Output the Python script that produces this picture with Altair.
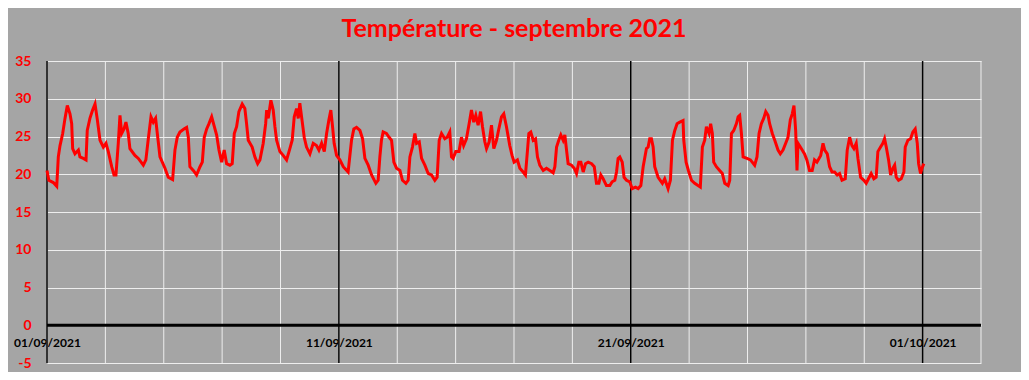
import altair as alt
import pandas as pd

title_text = "Température - septembre 2021"
x_tick_labels = ["01/09/2021", "11/09/2021", "21/09/2021", "01/10/2021"]
y_ticks = [-5, 0, 5, 10, 15, 20, 25, 30, 35]

# hours elapsed since 01/09/2021 00:00
hours = [
    0, 1.5, 5.2, 8, 9.3, 10.7, 12.9, 14.8, 16.7, 18.9, 20.3, 21.1, 23, 25.8, 27.1, 29.9, 32.1,
    33.1, 35.3, 37.5, 39.5, 41.4, 43.6, 46.3, 48.5, 50.4, 53.2, 55.1, 56.7, 58.6, 60, 61.4,
    63.3, 64.9, 66.8, 68.2, 72.3, 75.1, 79.2, 81.3, 83.3, 85.5, 87.4, 89.3, 90.7, 92.9, 97,
    99.7, 103.3, 105.2, 107.1, 109.3, 112.6, 114.8, 116.2, 117.5, 120.3,
    123, 125.8, 127.7, 129.3, 131.3, 133.2, 135.4, 137.6, 139.5, 141.4, 143.6, 145.7, 147.7,
    150.4, 152.3, 154, 155.9, 157.8, 160.5, 162.7, 164.1, 165.5, 168.7, 170.9, 173.2, 175.1,
    177.8, 179.8, 180.6, 181.9, 184.1, 186, 187.4, 188.8, 191.5, 194.2, 197, 199.7, 201.6,
    203.3, 205.2, 206.6, 207.9, 209.9, 211.5, 213.4, 216.2, 218.9, 221.6, 223.6, 225.8, 228,
    229.9, 231.8, 233.4, 234.8, 236.1, 238.1, 240.8, 243.6, 247.6,
    250.4, 252.3, 254.5, 257.3, 259.5, 261.4, 264.1, 266.9, 270.4, 272.3, 273.7, 275, 276.4,
    279.1, 281.3, 283.3, 285.2, 287.4, 290.2, 292.3, 295.1, 297, 298.4, 300.5, 302.5, 303.9,
    306.1, 308, 310.7, 313.4, 316.2, 318.9, 320.8, 322.5, 324.4, 327.1, 329.1, 331.2, 332.6,
    333.9, 336.1, 338.8, 340.8, 342.6, 344.9, 347.1, 349, 350.9, 352.6, 354.5, 356.5, 358.1,
    360, 361.4, 363.6, 365.5, 367.4, 369.6, 371.5, 373.7, 375.6, 377.8,
    380.5, 382.4, 384.1, 386.8, 388.8, 391.5, 393.4, 395.1, 396.2, 397.8, 399.8, 401.7, 403.3,
    405.2, 408, 410.7, 413.5, 416.2, 417.6, 419, 420.8, 422.5, 424.4, 425.8, 427.2, 428.5,
    431.3, 433.5, 435.4, 437.3, 439, 440.9, 442.8, 445, 447.8, 450, 451.8, 453.8, 455.4,
    457.3, 460, 462.8, 464.7, 466.9, 468.3, 469.6, 471, 473, 474.5, 476.5, 479.2, 481.1,
    483.9, 486.1, 488.3, 490.2, 492.9, 494.3, 495.6, 497, 498.4, 499.7, 502.5,
    506, 507.9, 510.7, 512.6, 514.3, 516.2, 518.1, 520.3, 523, 523.6, 525.5, 527.4, 529.9,
    532.6, 535.3, 537.2, 538.9, 540.8, 542.2, 544.4, 545.7, 547.1, 548.2, 550.4, 553.1, 555.3,
    557.3, 560.1, 561.4, 562.8, 564.7, 566.9, 568.3, 569.6, 571, 572.4, 575.6, 578.4, 581.9,
    583.8, 585.5, 587.4, 589.3, 591, 592.9, 594.2, 596.4, 598.4, 601.1, 603, 605.2, 607.4,
    609.3, 611.2, 612.8, 614.2, 615.6, 616.7, 617.5, 620.2, 622.9, 624.8, 627, 629.2, 631.1,
    633.1,
    636.2, 638.1, 639.5, 641.6, 643.5, 645.5, 647.6, 649.8, 651.7, 653.7, 656.4, 658, 660,
    661.9, 663.5, 665.4, 666.8, 669, 671.7, 673.6, 675.5, 677.7, 679.9, 681.8, 683.2, 685.4,
    687.3, 688.7, 690.1, 692, 693.7, 695.6, 697, 698.3, 700.2, 702.4, 704.6, 705.7, 707.9,
    710.1, 712, 713.9, 715.6, 716.7, 718.3, 719.5, 721,
]

temps = [
    20.5, 19.2, 18.9, 18.4, 22.3, 23.8, 25.4, 27.4, 29.1, 28.0, 26.7, 23.4, 22.7, 23.2, 22.3, 22.1, 21.9,
    25.8, 27.4, 28.5, 29.3, 27.2, 24.5, 23.6, 24.1, 23.0, 21.0, 19.9, 19.9, 24.1, 27.8, 25.4,
    26.0, 26.9, 25.4, 23.4, 22.5, 22.1, 21.2, 21.9, 24.7, 27.6, 26.9, 27.4, 25.4, 22.3, 20.8,
    19.6, 19.3, 23.2, 24.9, 25.6, 26.0, 26.2, 24.9, 21.0, 20.5,
    19.9, 21.0, 21.6, 24.9, 26.0, 26.7, 27.6, 26.3, 25.2, 23.2, 21.6, 23.2, 21.4,
    21.2, 21.4, 25.4, 26.3, 28.3, 29.3, 28.7, 26.7, 24.5, 23.6, 22.3, 21.4, 21.9,
    24.1, 26.7, 28.5, 27.4, 29.8, 28.5, 26.3, 24.5, 23.0, 22.5, 21.9, 23.4, 24.5,
    27.6, 28.7, 27.4, 29.4, 26.9, 24.9, 23.6, 22.7, 24.1, 23.8, 23.2, 24.1, 23.0,
    25.4, 27.2, 28.5, 26.3, 24.1, 22.5, 21.9, 21.0, 20.3,
    24.5, 26.0, 26.2, 25.8, 24.7, 22.1, 21.2, 19.9, 18.8, 19.2, 22.3, 24.5, 25.6,
    25.4, 24.9, 24.5, 21.6, 20.8, 20.5, 19.2, 18.8, 19.2, 22.3, 23.6, 25.4, 24.1,
    24.3, 22.1, 21.2, 20.1, 19.9, 19.2, 19.6, 24.5, 25.4, 24.7, 24.9, 25.6, 22.3,
    22.1, 23.0, 23.0, 24.9, 23.8, 24.7, 26.7, 28.5, 26.9, 27.8, 26.5, 28.3, 26.3,
    24.3, 23.4, 24.3, 26.5, 23.4, 24.5, 26.0, 27.6, 28.0, 26.3,
    23.8, 22.5, 21.6, 21.9, 20.8, 20.3, 19.9, 23.2, 25.4, 25.6, 24.5, 24.7, 22.3,
    21.2, 20.5, 20.8, 20.5, 20.2, 21.0, 23.6, 24.5, 25.2, 24.5, 25.2, 23.2, 21.4,
    21.2, 20.8, 20.1, 21.6, 21.6, 20.3, 21.4, 21.6, 21.4, 21.0, 18.8, 18.8, 19.9,
    19.4, 18.5, 18.5, 19.0, 19.2, 20.3, 22.1, 22.3, 21.6, 19.6, 19.2, 19.0, 18.1,
    18.3, 18.1, 18.5, 21.0, 23.4, 23.6, 24.7, 24.7, 23.6, 21.0, 19.6,
    18.8, 19.4, 18.1, 19.2, 24.5, 25.8, 26.7, 26.9, 27.1, 24.5, 21.6, 20.5, 19.2,
    18.8, 18.5, 18.3, 23.6, 24.5, 26.3, 25.4, 26.7, 25.4, 21.6, 21.0, 20.5, 20.1,
    18.8, 18.5, 19.2, 25.4, 25.8, 26.7, 27.6, 27.8, 25.4, 22.3, 22.1, 21.9, 21.2,
    22.3, 25.4, 26.7, 27.4, 28.3, 27.8, 26.7, 25.4, 24.5, 23.2, 22.7, 23.2, 24.1,
    24.9, 27.2, 28.0, 29.1, 25.8, 20.5, 24.1, 23.4, 22.7, 21.9, 20.5, 20.5, 21.9,
    21.6,
    22.5, 24.1, 23.2, 22.7, 21.0, 20.3, 20.3, 19.9, 20.1, 19.2, 19.4, 23.2, 24.9,
    23.8, 23.4, 24.1, 22.1, 19.6, 19.2, 18.8, 19.4, 20.1, 19.4, 19.6, 23.0, 23.6,
    24.1, 24.7, 23.6, 21.9, 19.9, 20.8, 21.2, 19.6, 19.2, 19.4, 20.3, 23.6, 24.5,
    24.7, 25.6, 26.0, 24.1, 21.4, 20.1, 20.8, 21.4,
]

start = pd.Timestamp("2021-09-01", tz="UTC")


def to_ms(ts):
    return int(ts.value // 10**6)


df = pd.DataFrame({
    "t": [to_ms(start + pd.Timedelta(hours=h)) for h in hours],
    "temp": temps,
})

major_ms = [to_ms(pd.to_datetime(s, format="%d/%m/%Y").tz_localize("UTC")) for s in x_tick_labels]
minor_ms = [to_ms(start + pd.Timedelta(days=2 * k)) for k in range(17)]
end_ms = minor_ms[-1]

x_scale = alt.Scale(type="utc", domain=[minor_ms[0], end_ms])
y_scale = alt.Scale(domain=[-5, 35], nice=False, zero=False)

GRID = "#EEEEEE"

x_axis = alt.Axis(
    values=major_ms,
    format="%d/%m/%Y",
    grid=False,
    domain=False,
    ticks=False,
    labelColor="#000000",
    labelFont="Lato",
    labelFontWeight="bold",
    labelFontSize=12,
    labelPadding=12,
    labelFlush=False,
    labelOverlap=False,
    offset=-38,
)

y_axis = alt.Axis(
    values=y_ticks,
    labelExpr="toString(datum.value)",
    grid=True,
    gridColor=GRID,
    gridWidth=1,
    domain=False,
    ticks=False,
    labelColor="#FF0000",
    labelFont="Lato",
    labelFontWeight="bold",
    labelFontSize=14,
    labelPadding=16,
)

X = lambda: alt.X("t:T", scale=x_scale, axis=x_axis, title=None)
Y = lambda f: alt.Y(f, scale=y_scale, axis=y_axis, title=None)

line = alt.Chart(df).mark_line(color="#FF0000", strokeWidth=3).encode(
    x=X(), y=Y("temp:Q")
)

minor_rules = alt.Chart(pd.DataFrame({"t": minor_ms})).mark_rule(
    color=GRID, strokeWidth=1
).encode(x=X())

major_rules = alt.Chart(pd.DataFrame({"t": major_ms})).mark_rule(
    color="#000000", strokeWidth=1.5
).encode(x=X())

zero_rule = alt.Chart(pd.DataFrame({"y": [0]})).mark_rule(
    color="#000000", strokeWidth=3
).encode(y=Y("y:Q"))

chart = alt.layer(minor_rules, major_rules, zero_rule, line).properties(
    width=934,
    height=302,
    autosize=alt.AutoSizeParams(type="none"),
    padding={"left": 39, "top": 53, "right": 40, "bottom": 9},
    title=alt.TitleParams(
        title_text,
        font="Lato",
        fontSize=25,
        fontWeight="bold",
        color="#FF0000",
        anchor="middle",
        frame="group",
        offset=12,
    ),
).configure(
    background="#A5A5A5"
).configure_view(stroke=None)

chart.save("out.html", embed_options={"renderer": "svg", "actions": False})
